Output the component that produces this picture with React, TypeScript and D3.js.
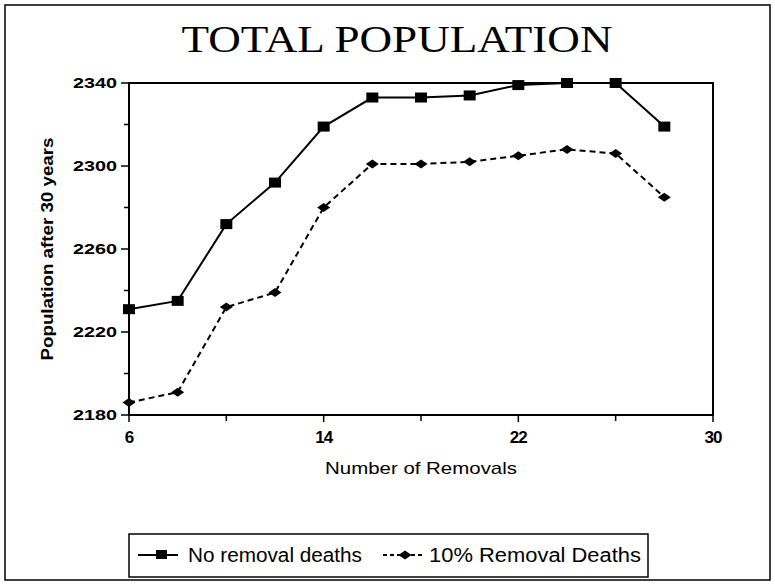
import React from "react";
import * as d3 from "d3";

// Number of removals
const removals = [6, 8, 10, 12, 14, 16, 18, 20, 22, 24, 26, 28];
// Population after 30 years
const noRemovalDeaths = [2231, 2235, 2272, 2292, 2319, 2333, 2333, 2334, 2339, 2340, 2340, 2319];
const tenPctRemovalDeaths = [2186, 2191, 2232, 2239, 2280, 2301, 2301, 2302, 2305, 2308, 2306, 2285];

const xMajorTicks = [6, 14, 22, 30];
const xMinorTicks = [10, 18, 26];
const yMajorTicks = [2180, 2220, 2260, 2300, 2340];
const yMinorTicks = [2200, 2240, 2280, 2320];

const SANS = "'Liberation Sans', Arial, sans-serif";
const SERIF = "'Liberation Serif', 'Times New Roman', serif";

export default function App() {
  const W = 775;
  const H = 585;
  const left = 129;
  const right = 713;
  const top = 83;
  const bottom = 415;

  const x = d3.scaleLinear().domain([6, 30]).range([left, right]);
  const y = d3.scaleLinear().domain([2180, 2340]).range([bottom, top]);

  const line = d3
    .line<number>()
    .x((_, i) => x(removals[i]))
    .y((d) => y(d));

  const diamond = (cx: number, cy: number) =>
    `M${cx - 6.5},${cy} L${cx},${cy - 4.5} L${cx + 6.5},${cy} L${cx},${cy + 4.5} Z`;

  return (
    <svg
      width={W}
      height={H}
      style={{ position: "absolute", left: 0, top: 0, background: "#fff" }}
    >
      {/* outer frame */}
      <rect x={5} y={5} width={765} height={575} fill="none" stroke="#000" strokeWidth={1.5} />

      <text
        x={397}
        y={52}
        textAnchor="middle"
        fontFamily={SERIF}
        fontSize={37}
        textLength={431}
        lengthAdjust="spacingAndGlyphs"
      >
        TOTAL POPULATION
      </text>

      {/* plot box */}
      <rect
        x={left}
        y={top}
        width={right - left}
        height={bottom - top}
        fill="none"
        stroke="#000"
        strokeWidth={2}
      />

      {/* y ticks */}
      {yMajorTicks.map((t) => (
        <g key={"ym" + t}>
          <line x1={left - 8} x2={left} y1={y(t)} y2={y(t)} stroke="#000" strokeWidth={1.5} />
          <text
            x={left - 56}
            y={y(t) + 5}
            fontFamily={SANS}
            fontWeight="bold"
            fontSize={14}
            textLength={44}
            lengthAdjust="spacingAndGlyphs"
          >
            {t}
          </text>
        </g>
      ))}
      {yMinorTicks.map((t) => (
        <line key={"yn" + t} x1={left - 5} x2={left} y1={y(t)} y2={y(t)} stroke="#000" strokeWidth={1.5} />
      ))}

      {/* x ticks */}
      {xMajorTicks.map((t) => (
        <g key={"xm" + t}>
          <line x1={x(t)} x2={x(t)} y1={bottom} y2={bottom + 7} stroke="#000" strokeWidth={1.5} />
          <text
            x={x(t)}
            y={bottom + 28}
            textAnchor="middle"
            fontFamily={SANS}
            fontWeight="bold"
            fontSize={17}
            letterSpacing={-1}
          >
            {t}
          </text>
        </g>
      ))}
      {xMinorTicks.map((t) => (
        <line key={"xn" + t} x1={x(t)} x2={x(t)} y1={bottom} y2={bottom + 6} stroke="#000" strokeWidth={1.5} />
      ))}

      <text
        x={(left + right) / 2}
        y={474}
        textAnchor="middle"
        fontFamily={SANS}
        fontSize={17}
        textLength={192}
        lengthAdjust="spacingAndGlyphs"
      >
        Number of Removals
      </text>

      <text
        transform={`translate(53,${(top + bottom) / 2}) rotate(-90)`}
        textAnchor="middle"
        fontFamily={SANS}
        fontWeight="bold"
        fontSize={17}
        textLength={223}
        lengthAdjust="spacingAndGlyphs"
      >
        Population after 30 years
      </text>

      {/* series */}
      <path d={line(noRemovalDeaths) || ""} fill="none" stroke="#000" strokeWidth={2} />
      {noRemovalDeaths.map((v, i) => (
        <rect key={"s" + i} x={x(removals[i]) - 6} y={y(v) - 5} width={12} height={10} fill="#000" />
      ))}

      <path
        d={line(tenPctRemovalDeaths) || ""}
        fill="none"
        stroke="#000"
        strokeWidth={2}
        strokeDasharray="6,4"
      />
      {tenPctRemovalDeaths.map((v, i) => (
        <path key={"d" + i} d={diamond(x(removals[i]), y(v))} fill="#000" />
      ))}

      {/* legend */}
      <rect x={129} y={534} width={519} height={43} fill="none" stroke="#000" strokeWidth={1.5} />
      <line x1={138} x2={178} y1={555} y2={555} stroke="#000" strokeWidth={2} />
      <rect x={156} y={550} width={11} height={9} fill="#000" />
      <text
        x={188}
        y={562}
        fontFamily={SANS}
        fontSize={20}
        textLength={174}
        lengthAdjust="spacingAndGlyphs"
      >
        No removal deaths
      </text>
      <line x1={383} x2={422} y1={555} y2={555} stroke="#000" strokeWidth={2} strokeDasharray="4,3" />
      <path d={diamond(405, 555)} fill="#000" />
      <text
        x={429}
        y={562}
        fontFamily={SANS}
        fontSize={20}
        textLength={212}
        lengthAdjust="spacingAndGlyphs"
      >
        10% Removal Deaths
      </text>
    </svg>
  );
}
